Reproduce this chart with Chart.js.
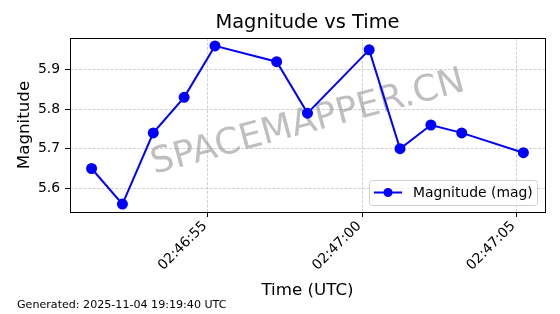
<!DOCTYPE html>
<html>
<head>
<meta charset="utf-8">
<script src="https://cdn.jsdelivr.net/npm/chart.js@4"></script>
<style>
  body { margin: 0; background: #fff; }
</style>
</head>
<body>
<canvas id="myChart" width="560" height="314"></canvas>
<script>
// seconds after 02:46:00 UTC
const times = [51.23, 52.23, 53.23, 54.23, 55.23, 57.23, 58.23, 60.23, 61.23, 62.23, 63.23, 65.23];
const magnitudes = [5.65, 5.56, 5.74, 5.83, 5.96, 5.92, 5.79, 5.95, 5.70, 5.76, 5.74, 5.69];
const xTicks = [55, 60, 65];
const xTickLabels = ["02:46:55", "02:47:00", "02:47:05"];
const yTicks = [5.6, 5.7, 5.8, 5.9];

const FONT = "'DejaVu Sans', sans-serif";

const gridOpts = {
  color: "rgba(176, 176, 176, 0.65)",
  lineWidth: 0.9,
  tickColor: "#000",
  tickLength: 5,
  tickWidth: 1,
  tickBorderDash: []
};

const extras = {
  id: "extras",
  beforeDatasetsDraw(chart) {
    const c = chart.ctx;
    c.save();
    c.translate(308, 123);
    c.rotate(-15 * Math.PI / 180);
    c.font = "36px " + FONT;
    c.fillStyle = "rgba(128, 128, 128, 0.5)";
    c.textAlign = "center";
    c.textBaseline = "middle";
    c.fillText("SPACEMAPPER.CN", 0, 0);
    c.restore();
  },
  afterDraw(chart) {
    const c = chart.ctx;
    const a = chart.chartArea;
    c.save();
    // frame
    c.strokeStyle = "#000";
    c.lineWidth = 1;
    c.strokeRect(Math.round(a.left) + 0.5, Math.round(a.top) + 0.5,
      Math.round(a.right - a.left), Math.round(a.bottom - a.top));

    // legend box
    const lx = 369, ly = 180, lw = 168, lh = 25;
    c.beginPath();
    c.roundRect(lx + 0.5, ly + 0.5, lw, lh, 3);
    c.fillStyle = "rgba(255,255,255,0.8)";
    c.fill();
    c.strokeStyle = "#d0d0d0";
    c.stroke();
    c.strokeStyle = "#0000ff";
    c.lineWidth = 2;
    c.beginPath();
    c.moveTo(374, 192.5);
    c.lineTo(402, 192.5);
    c.stroke();
    c.fillStyle = "#0000ff";
    c.beginPath();
    c.arc(388, 192.5, 4.5, 0, Math.PI * 2);
    c.fill();
    c.fillStyle = "#000";
    c.font = "13.9px " + FONT;
    c.textBaseline = "middle";
    c.fillText("Magnitude (mag)", 413, 193);

    // footer
    c.font = "11.1px " + FONT;
    c.fillText("Generated: 2025-11-04 19:19:40 UTC", 17, 305);
    c.restore();
  }
};

const ctx = document.getElementById("myChart");
const myChart = new Chart(ctx, {
  type: "line",
  data: {
    datasets: [
      {
        label: "Magnitude (mag)",
        data: times.map((t, i) => ({ x: t, y: magnitudes[i] })),
        borderColor: "#0000ff",
        backgroundColor: "#0000ff",
        borderWidth: 2,
        pointRadius: 4.5,
        pointHoverRadius: 4.5,
        tension: 0
      }
    ]
  },
  options: {
    responsive: false,
    animation: false,
    devicePixelRatio: 1,
    layout: {
      padding: { left: 0, right: 15, top: 0, bottom: 13 }
    },
    plugins: {
      legend: { display: false },
      tooltip: { enabled: false },
      title: {
        display: true,
        fullSize: false,
        text: "Magnitude vs Time",
        color: "#000",
        font: { family: FONT, size: 19.4, weight: "normal" },
        padding: { top: 11.5, bottom: 3.2 }
      }
    },
    scales: {
      x: {
        type: "linear",
        min: 50.53,
        max: 65.93,
        afterBuildTicks: (scale) => {
          scale.ticks = xTicks.map((v) => ({ value: v }));
        },
        afterFit: (scale) => {
          scale.height = 89;
        },
        ticks: {
          color: "#000",
          font: { family: FONT, size: 13.9 },
          minRotation: 45,
          maxRotation: 45,
          padding: 1,
          labelOffset: -3,
          callback: (v) => xTickLabels[xTicks.indexOf(v)]
        },
        grid: gridOpts,
        border: { display: false, dash: [3, 1.5] },
        title: {
          display: true,
          text: "Time (UTC)",
          color: "#000",
          font: { family: FONT, size: 16.7 },
          padding: { top: 0, bottom: 0 }
        }
      },
      y: {
        min: 5.54,
        max: 5.98,
        afterBuildTicks: (scale) => {
          scale.ticks = yTicks.map((v) => ({ value: v }));
        },
        afterFit: (scale) => {
          scale.width = 70;
        },
        ticks: {
          color: "#000",
          font: { family: FONT, size: 13.9 },
          padding: 5,
          callback: (v) => v.toFixed(1)
        },
        grid: gridOpts,
        border: { display: false, dash: [3, 1.5] },
        title: {
          display: true,
          text: "Magnitude",
          color: "#000",
          font: { family: FONT, size: 16.7 },
          padding: { top: 15, bottom: 0 }
        }
      }
    }
  },
  plugins: [extras]
});
</script>
</body>
</html>
